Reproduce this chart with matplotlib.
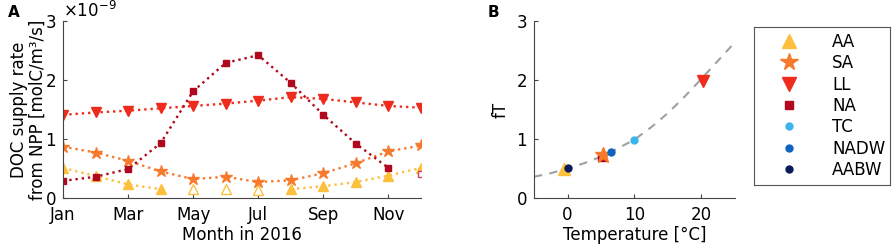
import numpy as np
import matplotlib.pyplot as plt
from matplotlib.lines import Line2D

plt.rcParams["font.family"] = "DejaVu Sans"
plt.rcParams["font.size"] = 12

# ---- data, panel A (units of 1e-9 molC/m3/s) ----
months = np.arange(1, 13)
aa = [0.51, 0.37, 0.23, 0.15, np.nan, np.nan, np.nan, 0.15, 0.20, 0.27, 0.38, 0.51]
aa_open_months = [5, 6, 7]
aa_open = [0.15, 0.15, 0.14]
sa = [0.87, 0.77, 0.63, 0.45, 0.32, 0.36, 0.27, 0.30, 0.42, 0.59, 0.79, 0.89]
ll = [1.41, 1.45, 1.48, 1.52, 1.56, 1.60, 1.65, 1.71, 1.68, 1.62, 1.56, 1.53]
na = [0.29, 0.36, 0.49, 0.93, 1.81, 2.29, 2.42, 1.95, 1.41, 0.92, 0.51, np.nan]
na_open_months = [12]
na_open = [0.40]
month_ticks = [1, 3, 5, 7, 9, 11]
month_labels = ["Jan", "Mar", "May", "Jul", "Sep", "Nov"]

# ---- data, panel B ----
regions = ["AA", "SA", "LL", "NA", "TC", "NADW", "AABW"]
temps = [-0.5, 5.3, 20.3, 5.2, 10.0, 6.5, 0.1]
ft = [0.49, 0.73, 1.98, 0.70, 0.99, 0.78, 0.50]
# dashed temperature curve
curve_t = [-5, -2.5, 0, 2.5, 5, 7.5, 10, 12.5, 15, 17.5, 20, 22.5, 25]
curve_ft = [0.36, 0.42, 0.50, 0.59, 0.70, 0.84, 0.99, 1.20, 1.44, 1.72, 2.02, 2.33, 2.64]

c_aa = "#FDBF3E"
c_sa = "#F7792B"
c_ll = "#EE2B1C"
c_na = "#B0081E"
c_tc = "#3BB5EB"
c_nadw = "#0E63C0"
c_aabw = "#0B1A5C"
colors = [c_aa, c_sa, c_ll, c_na, c_tc, c_nadw, c_aabw]
markers = ["^", "*", "v", "s", "o", "o", "o"]
sizes_b = [9, 12, 9, 6, 5, 5, 5]
sizes_leg = [10, 13, 10, 5.5, 5, 5, 5]

fig = plt.figure(figsize=(8.93, 2.47), dpi=100)
axA = fig.add_axes([0.0706, 0.1984, 0.4008, 0.7166])
axB = fig.add_axes([0.598, 0.1984, 0.225, 0.7166])
axL = fig.add_axes([0.844, 0.251, 0.153, 0.64])

spine_col = "#444444"
for ax in (axA, axB):
    for s in ["top", "right"]:
        ax.spines[s].set_visible(False)
    for s in ["left", "bottom"]:
        ax.spines[s].set_color(spine_col)
        ax.spines[s].set_linewidth(0.8)
    ax.tick_params(direction="in", length=3, color=spine_col, labelsize=12)
    ax.tick_params(axis="y", pad=5)
    ax.tick_params(axis="x", pad=6)

# panel A
lw = 1.7
axA.plot(months, ll, ":", color=c_ll, lw=lw, marker="v", ms=6.5, mfc=c_ll, mec=c_ll)
axA.plot(months, sa, ":", color=c_sa, lw=lw, marker="*", ms=9, mfc=c_sa, mec=c_sa)
axA.plot(months, aa, ":", color=c_aa, lw=lw, marker="^", ms=6.5, mfc=c_aa, mec=c_aa)
axA.plot(aa_open_months, aa_open, ls="none", marker="^", ms=6.5, mfc="white", mec=c_aa, mew=1)
axA.plot(months, na, ":", color=c_na, lw=lw, marker="s", ms=5, mfc=c_na, mec=c_na)
axA.plot(na_open_months, na_open, ls="none", marker="s", ms=5, mfc="white", mec="#D0455A", mew=1)
axA.set_xlim(1, 12)
axA.set_ylim(0, 3)
axA.set_xticks(month_ticks)
axA.set_xticklabels(month_labels)
axA.set_yticks([0, 1, 2, 3])
axA.set_xlabel("Month in 2016", labelpad=1)
axA.set_ylabel("DOC supply rate\nfrom NPP [molC/m³/s]", linespacing=1.1)
axA.yaxis.set_label_coords(-0.045, 0.5)
axA.text(0.0, 1.0, "×10$^{-9}$", transform=axA.transAxes, ha="left", va="bottom", fontsize=12)
fig.text(0.009, 0.95, "A", fontsize=11, fontweight="bold", ha="left", va="center")

# panel B
axB.plot(curve_t, curve_ft, color="#A0A0A0", lw=1.5, dashes=(4, 3.5))
order = [0, 6, 3, 1, 5, 4, 2]
for i in order:
    axB.plot(temps[i], ft[i], ls="none", marker=markers[i], ms=sizes_b[i],
             mfc=colors[i], mec=colors[i])
axB.set_xlim(-5, 25)
axB.set_ylim(0, 3)
axB.set_xticks([0, 10, 20])
axB.set_yticks([0, 1, 2, 3])
axB.set_xlabel("Temperature [°C]", labelpad=1)
axB.set_ylabel("fT", labelpad=5)
fig.text(0.546, 0.95, "B", fontsize=11, fontweight="bold", ha="left", va="center")

# legend box
axL.set_xticks([])
axL.set_yticks([])
for s in axL.spines.values():
    s.set_color("#555555")
    s.set_linewidth(0.8)
handles = [Line2D([], [], ls="none", marker=markers[i], ms=sizes_leg[i],
                  mfc=colors[i], mec=colors[i]) for i in range(len(regions))]
axL.legend(handles, regions, loc="center", frameon=False, fontsize=12,
           handletextpad=1.6, labelspacing=0.2, borderpad=0,
           bbox_to_anchor=(0.55, 0.5))

fig.savefig("out.png", dpi=100)
